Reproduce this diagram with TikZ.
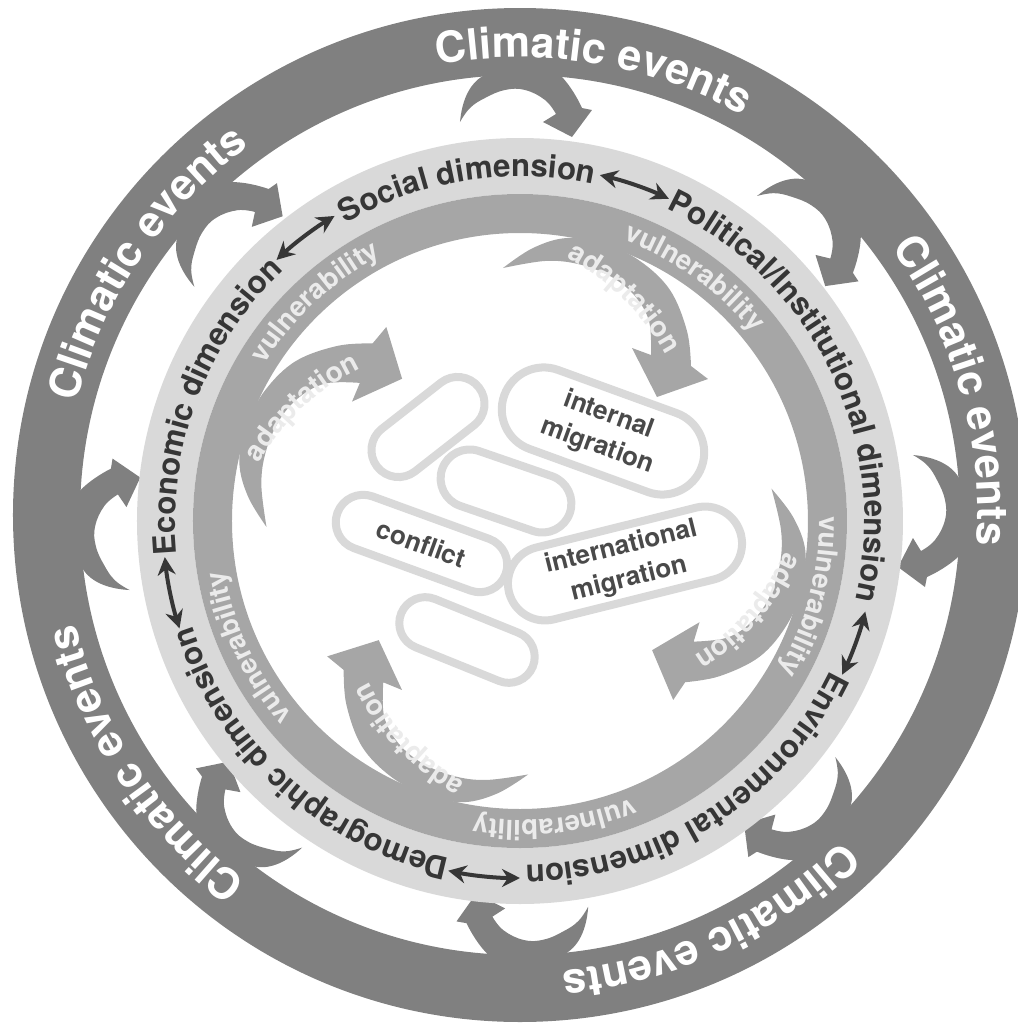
\documentclass[tikz,border=0pt]{standalone}
\usepackage{fontspec}
\setmainfont{TeX Gyre Heros}
\usetikzlibrary{decorations.text, arrows.meta}
\definecolor{ringdark}{HTML}{808080}
\definecolor{ringlight}{HTML}{D9D9D9}
\definecolor{ringmid}{HTML}{A6A6A6}
\definecolor{dimtext}{HTML}{363636}
\definecolor{boxline}{HTML}{D9D9D9}
\definecolor{boxtext}{HTML}{4A4A4A}
\definecolor{softtext}{HTML}{EBEBEB}
\newcommand{\climfont}{\fontsize{21.5}{24}\selectfont\bfseries\color{white}}
\newcommand{\dimfont}{\fontsize{15.6}{18}\selectfont\bfseries\color{dimtext}}
\newcommand{\vulnfont}{\fontsize{13.7}{16}\selectfont\bfseries\color{softtext}}
\newcommand{\adaptfont}{\fontsize{14}{16}\selectfont\bfseries\color{softtext}}
\tikzset{
  ringtext/.style={decorate, decoration={text along path, text align=center, #1}},
  dimarrow/.style={line width=2pt, draw=dimtext,
    {Stealth[length=9pt,width=9pt]}-{Stealth[length=9pt,width=9pt]}},
  pill/.style={draw=boxline, line width=4pt, fill=white, inner sep=0pt,
    align=center, font=\fontsize{13}{16.5}\selectfont\bfseries, text=boxtext},
}
\begin{document}
\begin{tikzpicture}[x=0.5pt,y=0.5pt]
\useasboundingbox (-520,-510) rectangle (498,515);

% outer band of climatic events
\fill[ringdark, even odd rule] (0,0) circle[radius=507] (0,0) circle[radius=440];

% eight inward arrows leaving the outer band
\foreach \rot in {-90,-45.3,0,46.3,92.2,138.1,181.2,223.8}{
  \begin{scope}[rotate=\rot]
    \fill[ringdark] (-60,393)
      .. controls (-58,415) and (-50,434) .. (-33,441)
      -- (-33,450) -- (41,450) -- (41,439)
      .. controls (50,430) and (58,416) .. (62,407)
      -- (72,405) -- (52,378) -- (23,393) -- (36,401)
      -- plot[smooth, tension=0.7] coordinates {(36,401) (25,415) (5,425) (-15,425) (-35,417) (-50,407) (-60,393)}
      -- cycle;
  \end{scope}
}

% labels on the outer band (paths run along the text baseline)
\foreach \c in {80.6,146,16,-65,213.5}{
  \path[ringtext={text={|\climfont|Climatic events}}]
    (\c+60:457.5) arc[start angle=\c+60, end angle=\c-60, radius=457.5];
}

\begin{scope}[shift={(0,-6)}]
  % dimension ring and vulnerability ring
  \fill[ringlight, even odd rule] (0,0) circle[radius=383] (0,0) circle[radius=327];
  \fill[ringmid, even odd rule] (0,0) circle[radius=327] (0,0) circle[radius=288];

  % adaptation arrows
  \foreach \rot in {0,87.5,-86.5,178}{
    \begin{scope}[rotate=\rot]
      \fill[ringmid]
        plot[smooth, tension=0.6] coordinates {(-17,253) (13,273) (47,283) (85,277) (120,260) (150,231) (167,190) (171,155)}
        -- (188,142) -- (137,124) -- (112,173) -- (131,166)
        -- plot[smooth, tension=0.6] coordinates {(131,166) (129,200) (114,226) (90,245) (58,257) (25,260) (-17,253)}
        -- cycle;
      \path[decorate, decoration={text along path, text={|\adaptfont|adaptation}}]
        plot[domain=80:28, samples=40] (\x:{263.5+(\x-77.4)*1.5});
    \end{scope}
  }

  % vulnerability labels
  \foreach \c in {133.1,54.4,-14.5,-83.4,205}{
    \path[ringtext={text={|\vulnfont|vulnerability}}]
      (\c+40:299.3) arc[start angle=\c+40, end angle=\c-40, radius=299.3];
  }

  % dimension labels
  \path[ringtext={text={|\dimfont|Social dimension}}]
    (99+50:344.5) arc[start angle=99+50, end angle=99-50, radius=344.5];
  \path[ringtext={text={|\dimfont|Political/Institutional dimension}}]
    (25.8+60:344.5) arc[start angle=25.8+60, end angle=25.8-60, radius=344.5];
  \path[ringtext={text={|\dimfont|Environmental dimension}}]
    (-57.4+50:344.5) arc[start angle=-57.4+50, end angle=-57.4-50, radius=344.5];
  \path[ringtext={text={|\dimfont|Demographic dimension}}]
    (228+50:344.5) arc[start angle=228+50, end angle=228-50, radius=344.5];
  \path[ringtext={text={|\dimfont|Economic dimension}}]
    (159.4+50:344.5) arc[start angle=159.4+50, end angle=159.4-50, radius=344.5];

  % two-way links between neighbouring dimensions
  \coordinate (es) at (133:357);
  \coordinate (sp) at (77:355);
  \coordinate (pe) at (-14.7:357);
  \coordinate (ed) at (-90:357);
  \coordinate (de) at (197.5:357);
  \draw[dimarrow] (es) arc[start angle=133, end angle=121.3, radius=357];
  \draw[dimarrow] (sp) arc[start angle=77, end angle=65.2, radius=355];
  \draw[dimarrow] (pe) arc[start angle=-14.7, end angle=-25.5, radius=357];
  \draw[dimarrow] (ed) arc[start angle=-90, end angle=-101.6, radius=357];
  \draw[dimarrow] (de) arc[start angle=197.5, end angle=185.8, radius=357];

  % outcome boxes
  \node[pill, minimum width=64.5pt, minimum height=27pt, rounded corners=13.5pt, rotate=38] (emptya) at (-92,94) {};
  \node[pill, minimum width=105pt, minimum height=42pt, rounded corners=21pt, rotate=-20] (internal) at (83,90) {internal\\migration};
  \node[pill, minimum width=67.5pt, minimum height=29pt, rounded corners=14.5pt, rotate=-19] (emptyb) at (-14,30) {};
  \node[pill, minimum width=89.5pt, minimum height=27.5pt, rounded corners=13.75pt, rotate=-20] (conflict) at (-98.5,-22.5) {conflict};
  \node[pill, minimum width=119.5pt, minimum height=37pt, rounded corners=18.5pt, rotate=14] (international) at (105,-42.5) {international\\migration};
  \node[pill, minimum width=71pt, minimum height=26pt, rounded corners=13pt, rotate=-22] (emptyc) at (-53,-119) {};
\end{scope}
\end{tikzpicture}
\end{document}
